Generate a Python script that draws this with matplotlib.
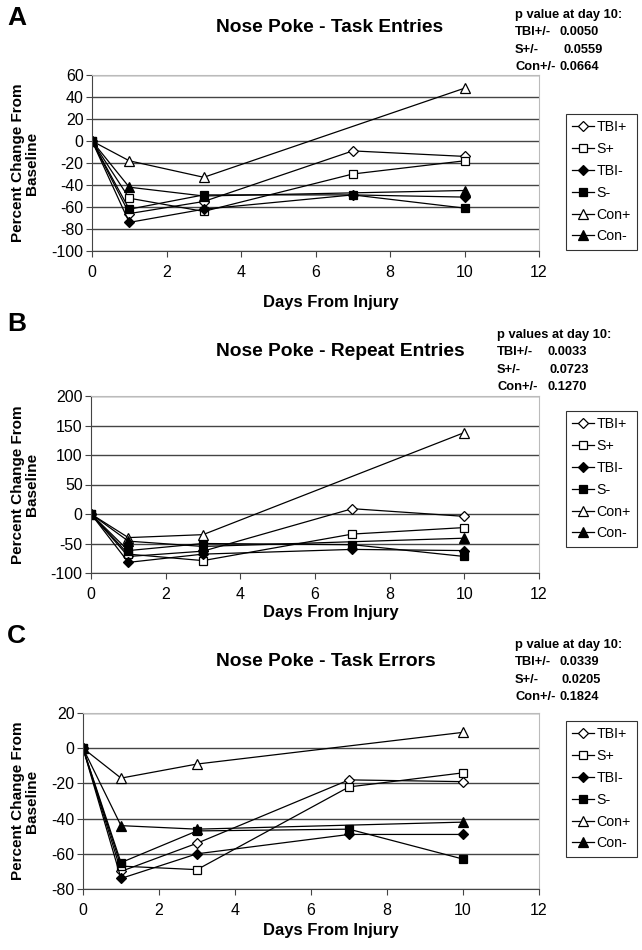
import numpy as np
import matplotlib
matplotlib.use("Agg")
import matplotlib.pyplot as plt

plt.rcParams['font.family'] = ['Liberation Sans', 'DejaVu Sans']
plt.rcParams['axes.unicode_minus'] = False

# --- data ---
days = [0, 1, 3, 7, 10]
labels = ['TBI+', 'S+', 'TBI-', 'S-', 'Con+', 'Con-']
nan = np.nan

entries = {  # A: task entries
    'TBI+': [0, -66, -55, -9, -14],
    'S+': [0, -52, -64, -30, -18],
    'TBI-': [0, -74, -62, -49, -51],
    'S-': [0, -62, -49, -49, -61],
    'Con+': [0, -18, -33, nan, 48],
    'Con-': [0, -42, -50, nan, -45],
}
repeats = {  # B: repeat entries
    'TBI+': [0, -72, -63, 9, -4],
    'S+': [0, -68, -79, -34, -23],
    'TBI-': [0, -82, -68, -60, -62],
    'S-': [0, -62, -50, -52, -72],
    'Con+': [0, -40, -35, nan, 138],
    'Con-': [0, -46, -55, nan, -41],
}
errors = {  # C: task errors
    'TBI+': [0, -70, -54, -18, -19],
    'S+': [0, -67, -69, -22, -14],
    'TBI-': [0, -74, -60, -49, -49],
    'S-': [0, -65, -47, -46, -63],
    'Con+': [0, -17, -9, nan, 9],
    'Con-': [0, -44, -46, nan, -42],
}

titles = ['Nose Poke - Task Entries', 'Nose Poke - Repeat Entries', 'Nose Poke - Task Errors']
letters = ['A', 'B', 'C']
yticks = [np.arange(-100, 61, 20), np.arange(-100, 201, 50), np.arange(-80, 21, 20)]
pheads = ['p value at day 10:', 'p values at day 10:', 'p value at day 10:']
pnames = ['TBI+/-', 'S+/-', 'Con+/-']
pvals = [['0.0050', '0.0559', '0.0664'],
         ['0.0033', '0.0723', '0.1270'],
         ['0.0339', '0.0205', '0.1824']]

styles = {
    'TBI+': dict(marker='D', mfc='white', ms=5.5),
    'S+': dict(marker='s', mfc='white', ms=6),
    'TBI-': dict(marker='D', mfc='black', ms=5.5),
    'S-': dict(marker='s', mfc='black', ms=6),
    'Con+': dict(marker='^', mfc='white', ms=7),
    'Con-': dict(marker='^', mfc='black', ms=7),
}

W, H = 642, 950
fig = plt.figure(figsize=(W / 100, H / 100), dpi=100)

# axes boxes in pixels: left, right, top, bottom
boxes = [(92, 539, 75, 251), (91, 539, 396, 573), (83, 539, 713, 889)]
title_y = [28, 352, 662]
letter_y = [18, 324, 636]
xlab_y = [302, 612, 930]
p_y = [15, 335, 645]
p_x = [515, 497, 515]
p_off = [[45, 48, 44], [50, 53, 51], [44, 47, 44]]
leg_top = [114, 411, 721]

for i, data in enumerate([entries, repeats, errors]):
    l, r, t, b = boxes[i]
    ax = fig.add_axes([l / W, 1 - b / H, (r - l) / W, (b - t) / H])
    for name in labels:
        y = np.array(data[name], dtype=float)
        x = np.array(days, dtype=float)
        ok = ~np.isnan(y)
        ax.plot(x[ok], y[ok], color='black', lw=0.9, mec='black', mew=0.9,
                label=name, **styles[name])
    ax.set_xlim(0, 12)
    ax.set_xticks(range(0, 13, 2))
    ax.set_ylim(yticks[i][0], yticks[i][-1])
    ax.set_yticks(yticks[i])
    ax.yaxis.grid(True, color='#444444', lw=1.0)
    ax.set_axisbelow(True)
    for s in ['top', 'right']:
        ax.spines[s].set_color('#bbbbbb')
    for s in ['left', 'bottom']:
        ax.spines[s].set_color('#444444')
    ax.tick_params(labelsize=11.5, length=4, color='#444444', pad=2)
    ax.tick_params(axis='x', pad=6)

    fig.text(216 / W, 1 - title_y[i] / H, titles[i], ha='left', va='center',
             fontsize=13.8, fontweight='bold')
    fig.text(7 / W, 1 - letter_y[i] / H, letters[i], ha='left', va='center',
             fontsize=19, fontweight='bold')
    fig.text(331 / W, 1 - xlab_y[i] / H, 'Days From Injury', ha='center',
             va='center', fontsize=12, fontweight='bold')
    fig.text(25 / W, 1 - (t + b) / 2 / H, 'Percent Change From\nBaseline',
             rotation=90, ha='center', va='center', fontsize=11,
             fontweight='bold', linespacing=1.0)

    # p value block
    fig.text(p_x[i] / W, 1 - p_y[i] / H, pheads[i], ha='left', va='center',
             fontsize=9.3, fontweight='bold')
    for k in range(3):
        yy = 1 - (p_y[i] + 17.3 * (k + 1)) / H
        fig.text(p_x[i] / W, yy, pnames[k], ha='left', va='center',
                 fontsize=9.3, fontweight='bold')
        fig.text((p_x[i] + p_off[i][k]) / W, yy, pvals[i][k], ha='left',
                 va='center', fontsize=9.3, fontweight='bold')

    leg = ax.legend(loc='upper left', bbox_to_anchor=(566 / W, 1 - leg_top[i] / H),
                    bbox_transform=fig.transFigure, frameon=True, fancybox=False,
                    edgecolor='black', fontsize=10.2, handlelength=1.5,
                    handletextpad=0.2, labelspacing=0.55, borderpad=0.45,
                    borderaxespad=0)
    leg.get_frame().set_linewidth(0.8)

fig.savefig('out.png', dpi=100)
